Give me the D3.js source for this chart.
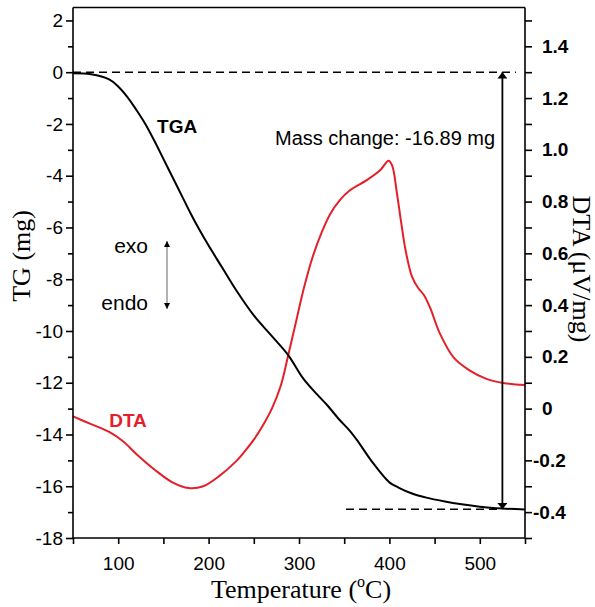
<!DOCTYPE html>
<html>
<head>
<meta charset="utf-8">
<script src="https://cdn.jsdelivr.net/npm/d3@7"></script>
<style>
  body { margin: 0; background: #fff; }
  svg { display: block; }
</style>
</head>
<body>
<svg id="chart"></svg>
<script>
// TGA curve (temperature in °C, mass in mg)
const tgaTemp = [50, 70, 90, 100, 110, 120, 130, 140, 150, 160, 170, 180, 190, 200, 215, 230, 250, 270, 288, 305, 320, 331, 345, 356, 364, 382, 400, 410, 425, 441, 460, 480, 500, 525, 550];
const tgaMass = [-0.04, -0.08, -0.28, -0.55, -0.95, -1.45, -2.0, -2.65, -3.35, -4.05, -4.75, -5.45, -6.1, -6.7, -7.55, -8.4, -9.4, -10.2, -10.93, -11.85, -12.45, -12.86, -13.44, -13.85, -14.21, -15.11, -15.85, -16.05, -16.28, -16.44, -16.58, -16.7, -16.79, -16.86, -16.9];

// DTA curve (temperature in °C, signal in µV/mg)
const dtaTemp = [50, 70, 90, 105, 120, 140, 160, 178, 194, 212, 230, 240, 250, 260, 270, 280, 288, 297, 305, 315, 325, 335, 345, 356, 375, 390, 399, 403, 408, 413, 418, 425, 432, 438, 445, 456, 471, 489, 508, 526, 550];
const dtaSignal = [-0.03, -0.06, -0.09, -0.125, -0.175, -0.235, -0.285, -0.307, -0.3, -0.26, -0.205, -0.165, -0.12, -0.065, 0.0, 0.09, 0.205, 0.34, 0.46, 0.585, 0.68, 0.755, 0.805, 0.843, 0.883, 0.922, 0.958, 0.94, 0.84, 0.72, 0.61, 0.51, 0.465, 0.44, 0.39, 0.289, 0.198, 0.147, 0.114, 0.099, 0.091];

const massChange = -16.89;
const massStart = 0;

const xTicks = d3.range(50, 551, 50);
const tgTicks = d3.range(-18, 3, 1);
const dtaTicks = d3.range(-5, 16, 1).map(d => d / 10);

const width = 595;
const height = 607;
const margin = { top: 7.5, right: 70, bottom: 69, left: 73 };

const sans = "'Liberation Sans', Arial, sans-serif";
const serif = "'Liberation Serif', 'Times New Roman', serif";
const red = "#e3202a";

const xScale = d3.scaleLinear([50, 550], [margin.left, width - margin.right]);
const yTG = d3.scaleLinear([-18, 2.5], [height - margin.bottom, margin.top]);
const yDTA = d3.scaleLinear([-0.5, 1.55], [height - margin.bottom, margin.top]);

const svg = d3.select("svg#chart").attr("width", width).attr("height", height);

const defs = svg.append("defs");
defs.append("marker")
  .attr("id", "head")
  .attr("viewBox", "0 0 10 16")
  .attr("refX", 10)
  .attr("refY", 8)
  .attr("markerWidth", 15)
  .attr("markerHeight", 10)
  .attr("markerUnits", "userSpaceOnUse")
  .attr("orient", "auto-start-reverse")
  .append("path")
  .attr("d", "M0,0 L10,8 L0,16 Z")
  .attr("fill", "#000");
defs.append("marker")
  .attr("id", "small")
  .attr("viewBox", "0 0 10 10")
  .attr("refX", 10)
  .attr("refY", 5)
  .attr("markerWidth", 8)
  .attr("markerHeight", 6)
  .attr("markerUnits", "userSpaceOnUse")
  .attr("orient", "auto-start-reverse")
  .append("path")
  .attr("d", "M0,0 L10,5 L0,10 Z")
  .attr("fill", "#000");

// curves
const tgaData = tgaTemp.map((t, i) => ({ t, v: tgaMass[i] }));
const dtaData = dtaTemp.map((t, i) => ({ t, v: dtaSignal[i] }));

svg.append("path")
  .datum(dtaData)
  .attr("d", d3.line().x(d => xScale(d.t)).y(d => yDTA(d.v)).curve(d3.curveCatmullRom.alpha(0.5)))
  .style("fill", "none")
  .style("stroke", red)
  .style("stroke-width", 2);

svg.append("path")
  .datum(tgaData)
  .attr("d", d3.line().x(d => xScale(d.t)).y(d => yTG(d.v)).curve(d3.curveCatmullRom.alpha(0.5)))
  .style("fill", "none")
  .style("stroke", "#000")
  .style("stroke-width", 2);

// dashed reference lines and mass change arrow
svg.append("line")
  .attr("x1", xScale(50)).attr("x2", xScale(540))
  .attr("y1", yTG(massStart)).attr("y2", yTG(massStart))
  .style("stroke", "#000").style("stroke-width", 1.6).style("stroke-dasharray", "8,5");
svg.append("line")
  .attr("x1", xScale(352)).attr("x2", xScale(522))
  .attr("y1", yTG(massChange)).attr("y2", yTG(massChange))
  .style("stroke", "#000").style("stroke-width", 1.6).style("stroke-dasharray", "8,5");
svg.append("line")
  .attr("x1", xScale(525)).attr("x2", xScale(525))
  .attr("y1", yTG(massStart)).attr("y2", yTG(massChange))
  .attr("marker-start", "url(#head)")
  .attr("marker-end", "url(#head)")
  .style("stroke", "#000").style("stroke-width", 1.8);

// exo / endo arrow
svg.append("line")
  .attr("x1", xScale(154)).attr("x2", xScale(154))
  .attr("y1", yTG(-6.52)).attr("y2", yTG(-9.15))
  .attr("marker-start", "url(#small)")
  .attr("marker-end", "url(#small)")
  .style("stroke", "#888").style("stroke-width", 1.3);

// annotations
svg.append("text")
  .attr("x", xScale(143)).attr("y", yTG(-2.35))
  .style("font-family", sans).style("font-size", "19px").style("font-weight", "bold")
  .text("TGA");
svg.append("text")
  .attr("x", xScale(90)).attr("y", yDTA(-0.07))
  .style("font-family", sans).style("font-size", "19px").style("font-weight", "bold")
  .style("fill", red)
  .text("DTA");
svg.append("text")
  .attr("x", xScale(273.5)).attr("y", yTG(-2.8))
  .style("font-family", sans).style("font-size", "20px")
  .text("Mass change: -16.89 mg");
svg.append("text")
  .attr("x", xScale(133)).attr("y", yTG(-7.0))
  .attr("text-anchor", "end")
  .style("font-family", sans).style("font-size", "21px")
  .text("exo");
svg.append("text")
  .attr("x", xScale(133)).attr("y", yTG(-9.19))
  .attr("text-anchor", "end")
  .style("font-family", sans).style("font-size", "21px")
  .text("endo");

// axes
const xAxis = d3.axisBottom(xScale)
  .tickValues(xTicks)
  .tickSize(6)
  .tickPadding(13)
  .tickFormat(d => (d % 100 === 0 ? d : ""));

const yAxis = d3.axisLeft(yTG)
  .tickValues(tgTicks)
  .tickSize(7)
  .tickPadding(3)
  .tickFormat(d => (d % 2 === 0 ? d : ""));

const y2Axis = d3.axisRight(yDTA)
  .tickValues(dtaTicks)
  .tickSize(7)
  .tickPadding(3)
  .tickFormat(d => (Math.round(d * 10) % 2 === 0 ? (d === 0 ? "0" : d.toFixed(1)) : ""));

function styleAxis(g) {
  g.select(".domain").style("stroke-width", 1.6);
  g.selectAll(".tick line").style("stroke-width", 1.6);
  g.selectAll("text").style("font-family", sans).style("font-size", "19px").style("fill", "#000");
}

svg.append("g")
  .attr("transform", `translate(0, ${height - margin.bottom})`)
  .call(xAxis)
  .call(styleAxis)
  .call(g => g.select(".domain").attr("d", `M${margin.left},0H${width - margin.right}`));

svg.append("g")
  .attr("transform", `translate(${margin.left}, 0)`)
  .call(yAxis)
  .call(styleAxis)
  .call(g => g.select(".domain").attr("d", `M0,${margin.top}V${height - margin.bottom}`))
  .call(g => g.selectAll(".tick line").filter(d => d % 2 !== 0).attr("x2", -5));

svg.append("g")
  .attr("transform", `translate(${width - margin.right}, 0)`)
  .call(y2Axis)
  .call(styleAxis)
  .call(g => g.select(".domain").attr("d", `M0,${margin.top}V${height - margin.bottom}`))
  .call(g => g.selectAll("text").style("font-weight", "bold").attr("x", d => (d < 0 ? 8 : 17)));

// top frame
svg.append("line")
  .attr("x1", margin.left).attr("x2", width - margin.right)
  .attr("y1", margin.top).attr("y2", margin.top)
  .style("stroke", "#000").style("stroke-width", 1.6);

// axis titles
const xTitle = svg.append("text")
  .attr("x", (margin.left + width - margin.right) / 2 + 2)
  .attr("y", 598)
  .attr("text-anchor", "middle")
  .style("font-family", serif).style("font-size", "26px");
xTitle.append("tspan").text("Temperature (");
xTitle.append("tspan").attr("dy", -11).style("font-size", "16px").text("o");
xTitle.append("tspan").attr("dy", 11).text("C)");

svg.append("text")
  .attr("transform", `translate(30, ${yTG(-7.1)}) rotate(-90)`)
  .attr("text-anchor", "middle")
  .style("font-family", serif).style("font-size", "26px")
  .text("TG (mg)");

svg.append("text")
  .attr("transform", `translate(573, ${yDTA(0.54)}) rotate(90)`)
  .attr("text-anchor", "middle")
  .style("font-family", serif).style("font-size", "26px")
  .text("DTA (μV/mg)");
</script>
</body>
</html>
